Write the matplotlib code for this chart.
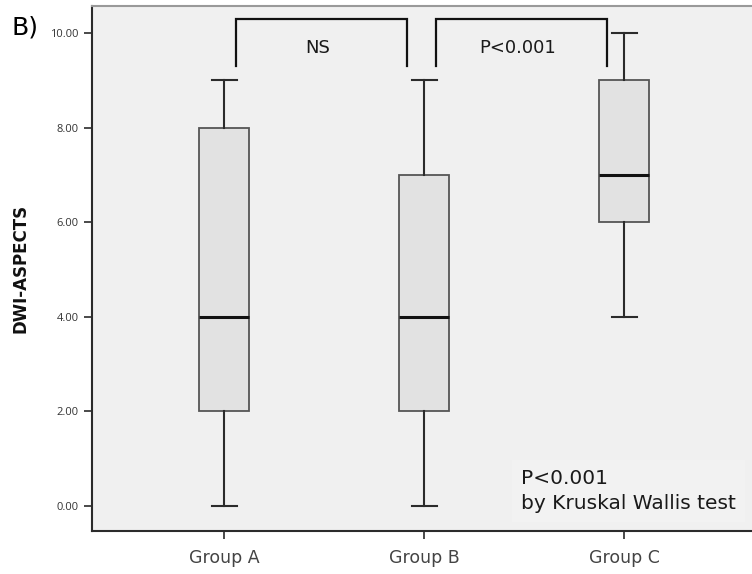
import matplotlib
matplotlib.use("Agg")
import matplotlib.pyplot as plt

plt.rcParams['font.family'] = ['DejaVu Sans']

groups = ['Group A', 'Group B', 'Group C']
whisker_low = [0, 0, 4]
q1 = [2, 2, 6]
median = [4, 4, 7]
q3 = [8, 7, 9]
whisker_high = [9, 9, 10]
y_ticks = [0, 2, 4, 6, 8, 10]

comparisons = [(0, 1, 'NS'), (1, 2, 'P<0.001')]

fig = plt.figure(figsize=(7.52, 5.74), dpi=100)
ax = fig.add_axes([92 / 752, 1 - 531 / 574, 660 / 752, 525 / 574])
ax.set_facecolor('#f0f0f0')

stats = []
for i, g in enumerate(groups):
    stats.append({'label': g, 'whislo': whisker_low[i], 'q1': q1[i],
                  'med': median[i], 'q3': q3[i], 'whishi': whisker_high[i],
                  'fliers': []})

line_col = '#2b2b2b'
ax.bxp(stats, positions=range(len(groups)), widths=0.25, patch_artist=True,
       showfliers=False,
       boxprops=dict(facecolor='#e2e2e2', edgecolor='#555555', linewidth=1.3),
       medianprops=dict(color='#111111', linewidth=2.2),
       whiskerprops=dict(color=line_col, linewidth=1.5),
       capprops=dict(color=line_col, linewidth=1.5),
       capwidths=0.125)

# significance brackets
for a, b, label in comparisons:
    x0, x1 = a + 0.06, b - 0.085
    ax.plot([x0, x0, x1, x1], [9.30, 10.30, 10.30, 9.30], color='#111111',
            linewidth=1.6, solid_joinstyle='miter')
    ax.text((x0 + x1) / 2 - 0.02, 9.68, label, ha='center', va='center',
            fontsize=13, color='#1a1a1a')

ax.text(1.485, 0.32, 'P<0.001\nby Kruskal Wallis test',
        ha='left', va='center', fontsize=14.5, color='#1a1a1a', linespacing=1.4,
        bbox=dict(boxstyle='square,pad=0.45', facecolor='#f2f2f2', edgecolor='none'))

ax.set_xlim(-0.66, 2.64)
ax.set_ylim(-0.53, 10.57)
ax.set_yticks(y_ticks)
ax.set_yticklabels([f'{v:.2f}' for v in y_ticks], fontsize=8, color='#333333',
                   family='Open Sans')
ax.set_xticks(range(len(groups)))
ax.set_xticklabels(groups, fontsize=12.5, color='#444444')
ax.tick_params(axis='both', length=6, width=1.2, color=line_col)
ax.tick_params(axis='x', pad=7)

ax.spines['left'].set_color(line_col)
ax.spines['bottom'].set_color(line_col)
ax.spines['left'].set_linewidth(1.5)
ax.spines['bottom'].set_linewidth(1.5)
ax.spines['top'].set_color('#999999')
ax.spines['top'].set_linewidth(1.5)
ax.spines['right'].set_visible(False)

ax.set_ylabel('DWI-ASPECTS', fontsize=12, fontweight='bold', color='#111111')
ax.yaxis.set_label_coords(-0.094, 0.5)
fig.text(12 / 752, 1 - 27 / 574, 'B)', fontsize=18, va='center', ha='left')

fig.savefig('out.png', dpi=100)
